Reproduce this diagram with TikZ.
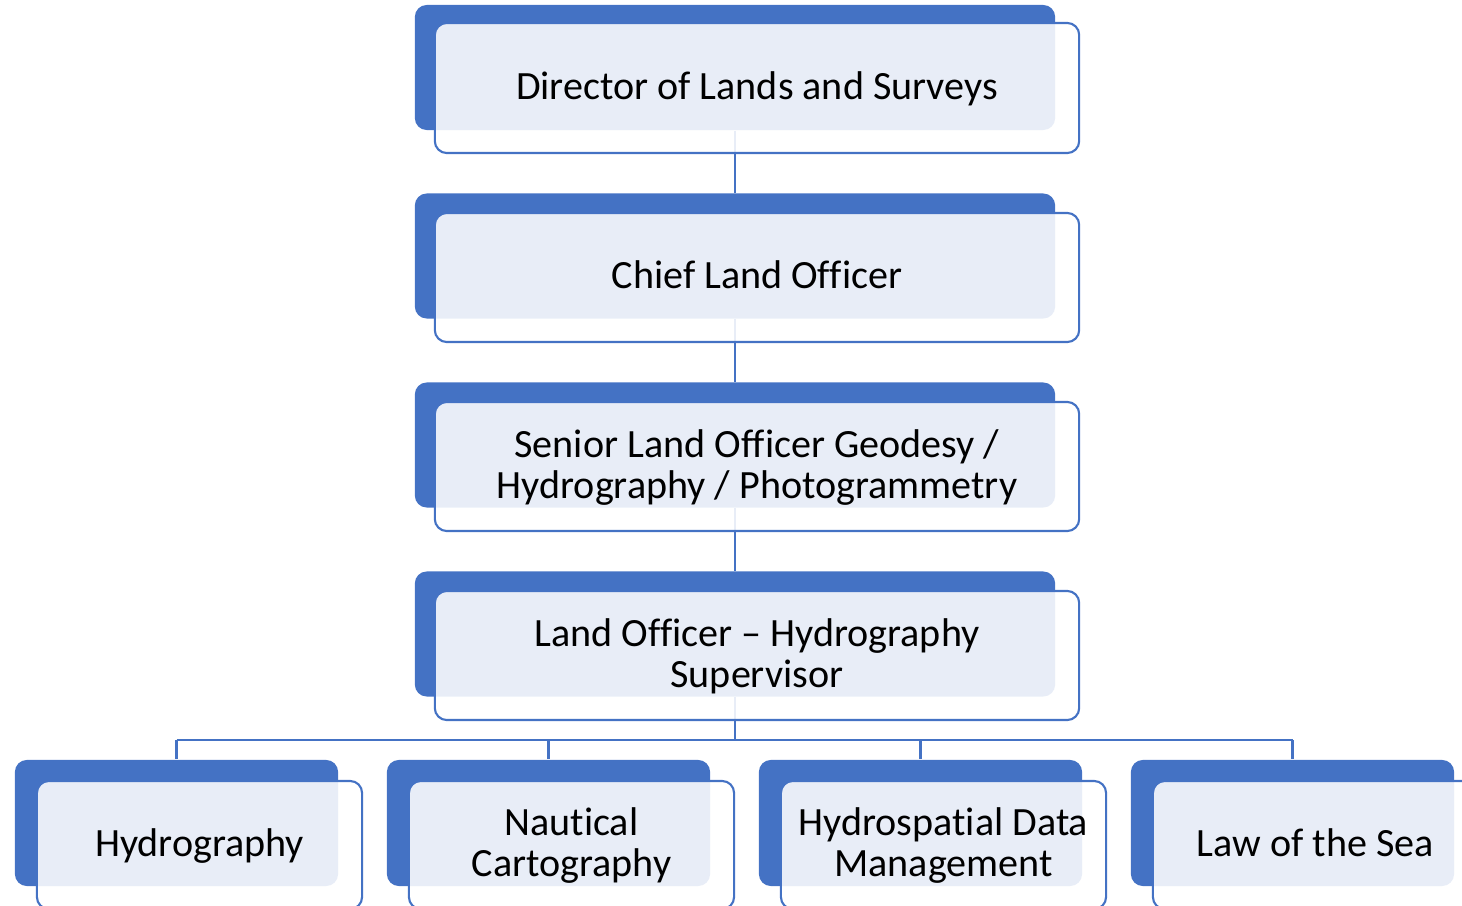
\documentclass[tikz,border=0pt]{standalone}
\usepackage{fontspec}
\setmainfont{Carlito}[Ligatures=CommonOff]
\usetikzlibrary{backgrounds}
\definecolor{accent}{HTML}{4472C4}
\newcommand{\ls}{\rule[-2.5pt]{0pt}{11.3pt}}
\tikzset{
  back/.style={
    shape = rectangle,
    fill = accent,
    rounded corners = 3.4pt,
    inner sep = 0pt
  },
  wide/.style={
    minimum width = 6.4cm,
    minimum height = 1.25cm
  },
  small/.style={
    minimum width = 3.23cm,
    minimum height = 1.26cm
  },
  front/.style={
    shape = rectangle,
    draw = accent,
    line width = 0.6pt,
    fill = white,
    fill opacity = 0.88,
    text opacity = 1,
    rounded corners = 3.4pt,
    align = center,
    inner sep = 0pt,
    font = \fontsize{11.4}{11.67}\selectfont
  },
  link/.style={
    draw = accent,
    line width = 0.6pt
  }
}
\begin{document}
\begin{tikzpicture}[x=0.01cm, y=-0.01cm]
    \useasboundingbox (0,0) rectangle (1462,906);
    \clip (0,0) rectangle (1462,906);
    \node[back, wide] (b-dir) at (735,67.5) {};
    \node[front, minimum width=6.44cm, minimum height=1.30cm] (f-dir) at (757,88) {\ls Director of Lands and Surveys};
    \node[back, wide] (b-chief) at (735,256) {};
    \node[front, minimum width=6.44cm, minimum height=1.29cm] (f-chief) at (757,277.5) {\ls Chief Land Officer};
    \node[back, wide] (b-senior) at (735,445) {};
    \node[front, minimum width=6.44cm, minimum height=1.29cm] (f-senior) at (757,466.5) {\ls Senior Land Officer Geodesy /\\\ls Hydrography / Photogrammetry};
    \node[back, wide] (b-sup) at (735,634) {};
    \node[front, minimum width=6.44cm, minimum height=1.29cm] (f-sup) at (757,655.5) {\ls Land Officer – Hydrography\\\ls Supervisor};
    \node[back, small] (b-hyd) at (176.5,823) {};
    \node[front, minimum width=3.25cm, minimum height=1.28cm] (f-hyd) at (199.5,845) {\ls Hydrography};
    \node[back, small] (b-nau) at (548.5,823) {};
    \node[front, minimum width=3.25cm, minimum height=1.28cm] (f-nau) at (571.5,845) {\ls Nautical\\\ls Cartography};
    \node[back, small] (b-hdm) at (920.5,823) {};
    \node[front, minimum width=3.25cm, minimum height=1.28cm] (f-hdm) at (943.5,845) {\ls Hydrospatial Data\\\ls Management};
    \node[back, small] (b-los) at (1292.5,823) {};
    \node[front, minimum width=3.25cm, minimum height=1.28cm] (f-los) at (1315.5,845) {\ls Law of the Sea};
    \coordinate (bus) at (735,740);
    \begin{scope}[on background layer]
      \draw[link] (b-dir.south) -- (b-chief.north);
      \draw[link] (b-chief.south) -- (b-senior.north);
      \draw[link] (b-senior.south) -- (b-sup.north);
      \draw[link] (b-sup.south) -- (bus);
      \draw[link] (bus -| b-hyd.north) -- (bus -| b-los.north);
      \foreach \n in {hyd,nau,hdm,los}
        \draw[link] (bus -| b-\n.north) -- (b-\n.north);
    \end{scope}
\end{tikzpicture}
\end{document}
